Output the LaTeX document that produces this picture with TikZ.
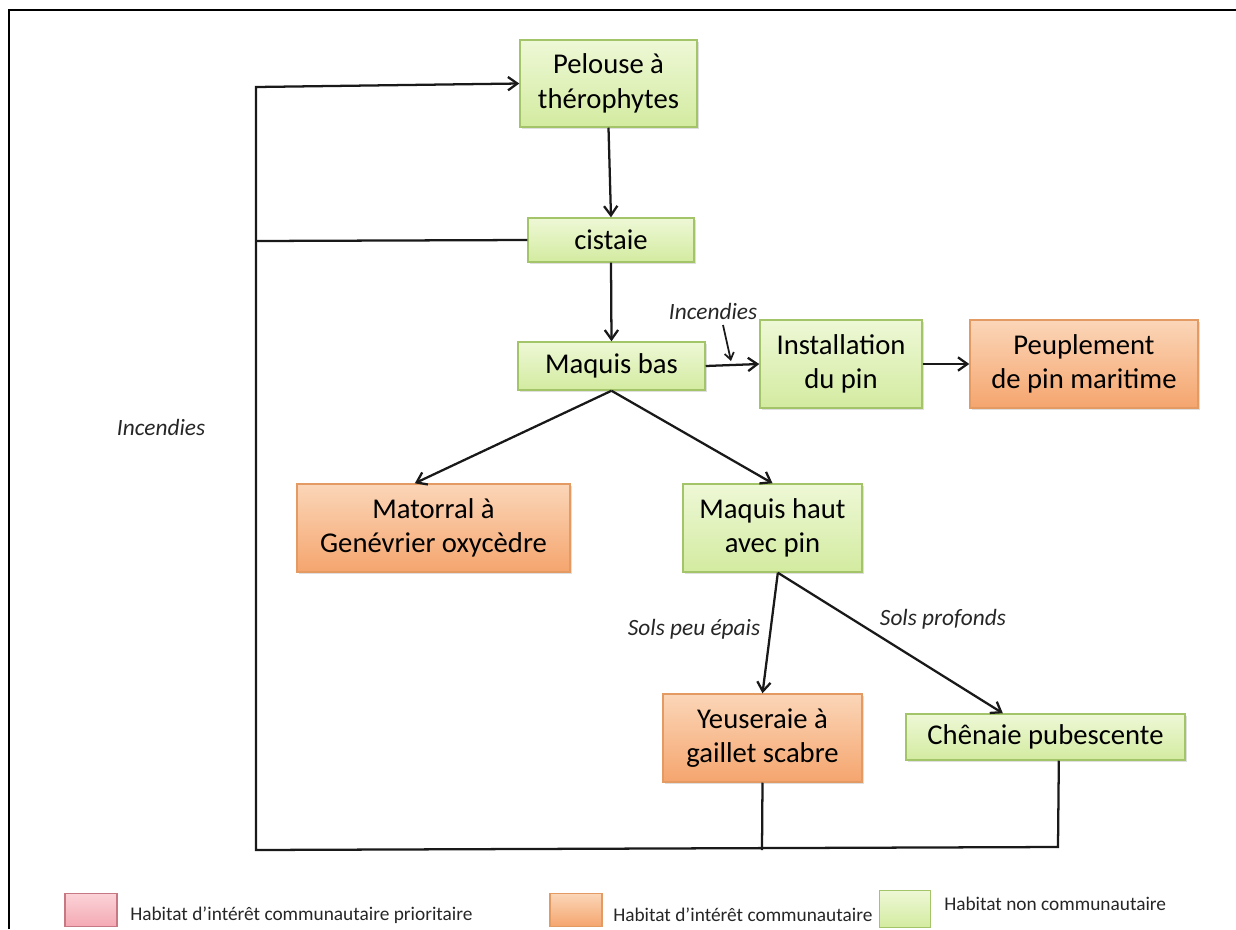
\documentclass[tikz,border=0pt]{standalone}
\usepackage{fontspec}
\setmainfont{Carlito}
\usetikzlibrary{arrows.meta,shadows,calc}
\definecolor{gfillt}{HTML}{EEF8D6}
\definecolor{gfillb}{HTML}{D3EBA0}
\definecolor{gdraw}{HTML}{A3C468}
\definecolor{ofillt}{HTML}{FBD6B8}
\definecolor{ofillb}{HTML}{F5A56E}
\definecolor{odraw}{HTML}{E39A63}
\definecolor{pfillt}{HTML}{FBD3D8}
\definecolor{pfillb}{HTML}{F4A9B3}
\definecolor{pdraw}{HTML}{C77983}
\tikzset{
  sz/.style 2 args={minimum width=#1*0.75pt, minimum height=#2*0.75pt},
  boxbase/.style={inner sep=0pt, align=center, line width=1.1pt,
    font=\fontsize{21.5}{26}\selectfont,
    drop shadow={shadow xshift=1.5pt, shadow yshift=-1.5pt, opacity=0.25}},
  greenbox/.style={boxbase, draw=gdraw, top color=gfillt, bottom color=gfillb},
  orangebox/.style={boxbase, draw=odraw, top color=ofillt, bottom color=ofillb},
  pinkleg/.style={draw=pdraw, line width=0.9pt, top color=pfillt, bottom color=pfillb},
  orangeleg/.style={draw=odraw, line width=0.9pt, top color=ofillt, bottom color=ofillb},
  greenleg/.style={draw=gdraw, line width=0.9pt, top color=gfillt, bottom color=gfillb},
  conn/.style={line width=1.7pt, draw=black!90},
  arr/.style={conn, -{Straight Barb[length=7pt,width=10pt,line width=1.7pt]}},
  smalllab/.style={font=\fontsize{17.5}{20}\selectfont\itshape, text=black!85, inner sep=0pt},
  leglab/.style={font=\fontsize{14.5}{17}\selectfont, text=black!85, inner sep=0pt, anchor=west}
}
\begin{document}
\begin{tikzpicture}[x=0.75pt,y=-0.75pt]
\useasboundingbox (0,0) rectangle (1236,929);
% frame
\draw[line width=1.6pt] (9,929) -- (9,10) -- (1236,10);

% nodes
\node[greenbox, sz={177}{87}] (pel) at (608.5,83.5) {Pelouse à\\thérophytes};
\node[greenbox, sz={166}{44}] (cis) at (611,240) {cistaie};
\node[greenbox, sz={187}{48}] (mqb) at (611.5,366) {Maquis bas};
\node[greenbox, sz={162}{88}] (ins) at (841,364) {Installation\\du pin};
\node[orangebox, sz={228}{88}] (peu) at (1084,364) {Peuplement\\de pin maritime};
\node[orangebox, sz={273}{88}] (mat) at (433.5,528) {Matorral à\\Genévrier oxycèdre};
\node[greenbox, sz={179}{88}] (mqh) at (772.5,528) {Maquis haut\\avec pin};
\node[orangebox, sz={199}{88}] (yeu) at (762.5,738) {Yeuseraie à\\gaillet scabre};
\node[greenbox, sz={279}{46}] (che) at (1045.5,737) {Chênaie pubescente};

% labels
\node[smalllab] (linc) at (713,311) {Incendies};
\node[smalllab] (linc2) at (161,427) {Incendies};
\node[smalllab] (lspe) at (694,629) {Sols peu épais};
\node[smalllab] (lspr) at (943,619) {Sols profonds};

% loop coordinates
\coordinate (tl) at (256,87);
\coordinate (bl) at (256,850);
\coordinate (ybot) at (762,850);
\coordinate (br) at (1058,847);
\coordinate (ia) at (723,325);
\coordinate (ib) at (731,361);

% connectors
\draw[arr] (pel.south) -- (cis.north);
\draw[arr] (cis.south) -- (mqb.north);
\draw[arr] (mqb.east) -- (ins.west);
\draw[arr] (ins.east) -- (peu.west);
\draw[arr] (mqb.south) -- ([xshift=-14pt]mat.north);
\draw[arr] (mqb.south) -- (mqh.north);
\draw[arr] ([xshift=4pt]mqh.south) -- (yeu.north);
\draw[arr] ([xshift=4pt]mqh.south) -- ([xshift=-32pt]che.north);
\draw[conn, line width=1.3pt, -{Straight Barb[length=5pt,width=7pt,line width=1.3pt]}] (ia) -- (ib);

\draw[arr] ([xshift=10pt]che.south) -- (br) -- (bl) -- (tl) -- (pel.west);
\draw[conn] (cis.west) -- (256,241);
\draw[conn] (yeu.south) -- (ybot);

% legend
\node[pinkleg, minimum width=39pt, minimum height=25pt, inner sep=0pt] (lg1) at (91,910) {};
\node[leglab] (lt1) at (130,915) {Habitat d’intérêt communautaire prioritaire};
\node[orangeleg, minimum width=39pt, minimum height=25pt, inner sep=0pt] (lg2) at (576,910) {};
\node[leglab] (lt2) at (613,915) {Habitat d’intérêt communautaire};
\node[greenleg, minimum width=38pt, minimum height=28pt, inner sep=0pt] (lg3) at (905,909) {};
\node[leglab] (lt3) at (944,904) {Habitat non communautaire};
\end{tikzpicture}
\end{document}
